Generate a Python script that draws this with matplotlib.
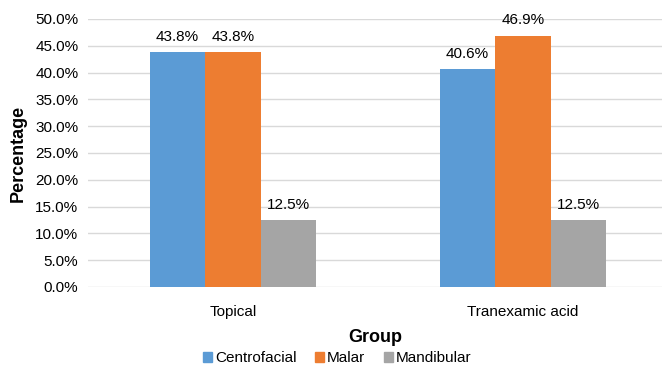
import numpy as np
import matplotlib.pyplot as plt
from matplotlib.patches import Patch
from matplotlib.ticker import FuncFormatter

groups = ["Topical", "Tranexamic acid"]
series = ["Centrofacial", "Malar", "Mandibular"]
centrofacial = [43.8, 40.6]
malar = [43.8, 46.9]
mandibular = [12.5, 12.5]
colors = ["#5B9BD5", "#ED7D31", "#A5A5A5"]

plt.rcParams['font.family'] = ['Liberation Sans', 'DejaVu Sans']

fig = plt.figure(figsize=(6.62, 3.68), dpi=100)
ax = fig.add_axes([88/662, 81/368, 1 - 88/662, 268/368])

x = np.arange(len(groups))
w = 0.191
for i, (vals, c) in enumerate(zip([centrofacial, malar, mandibular], colors)):
    bars = ax.bar(x + (i - 1) * w, vals, w, color=c, zorder=3)
    ax.bar_label(bars, labels=["{:.1f}%".format(v) for v in vals], padding=6, fontsize=11)

ax.set_xlim(-0.5, 1.48)
ax.set_ylim(0, 50)
ax.set_yticks(np.arange(0, 50.1, 5))
ax.yaxis.set_major_formatter(FuncFormatter(lambda v, p: "{:.1f}%".format(v)))
ax.set_xticks(x)
ax.set_xticklabels(groups)
ax.tick_params(axis='y', length=0, labelsize=11, pad=7)
ax.tick_params(axis='x', length=0, labelsize=11, pad=13)
ax.grid(axis='y', color='#D9D9D9', linewidth=1, zorder=0)
for s in ax.spines.values():
    s.set_visible(False)

ax.set_ylabel("Percentage", fontsize=13, fontweight='bold', labelpad=6)
ax.set_xlabel("Group", fontsize=13, fontweight='bold', labelpad=7)

handles = [Patch(color=c, label=s) for s, c in zip(series, colors)]
fig.legend(handles=handles, loc='lower center', bbox_to_anchor=(337/662, -0.03), ncol=3,
           frameon=False, fontsize=11, handlelength=0.6, handleheight=0.6,
           handletextpad=0.2, columnspacing=1.2)

fig.savefig("out.png", dpi=100)
